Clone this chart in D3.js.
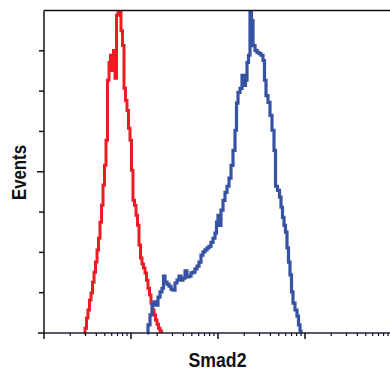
<!DOCTYPE html>
<html>
<head>
<meta charset="utf-8">
<script src="https://cdn.jsdelivr.net/npm/d3@7"></script>
<style>
  html, body { margin: 0; padding: 0; background: #fff; }
  svg { display: block; }
  .axis-title {
    font-family: "Liberation Sans Narrow", "Arial Narrow", "Liberation Sans", Arial, sans-serif;
    font-weight: bold;
    font-size: 21px;
    fill: #111;
  }
</style>
</head>
<body>
<div id="chart"></div>
<script>
// -------------------------------------------------------------------------
// Data (fluorescence intensity, events)

const redIntensity = [2.88, 2.96, 3.08, 3.20, 3.33, 3.47, 3.61, 3.76, 3.91, 4.07,
  4.23, 4.40, 4.58, 4.77, 4.96, 5.16, 5.37, 5.59, 5.81, 6.05,
  6.29, 6.55, 6.81, 7.09, 7.37, 7.67, 7.99, 8.31, 8.65, 8.99,
  9.36, 9.74, 10.13, 10.54, 10.97, 11.41, 11.88, 12.36, 12.86, 13.38,
  13.92, 14.49, 15.08, 15.68, 16.32, 16.98, 17.67, 18.38, 19.13, 19.90,
  20.71, 21.54, 22.41];
const redEvents = [0, 0.12, 0.37, 0.57, 0.82, 0.99, 1.26, 1.51, 1.76, 2.06,
  2.35, 2.75, 3.17, 3.67, 4.16, 4.78, 6.27, 6.71, 6.89, 6.51,
  7.01, 6.32, 7.88, 8.4, 8.4, 7.50, 7.13, 6.07, 5.77, 5.52,
  5.08, 4.78, 4.04, 3.29, 3.17, 2.92, 2.67, 2.18, 1.86, 1.71,
  1.61, 1.49, 1.31, 1.11, 0.94, 0.74, 0.57, 0.45, 0.32, 0.22,
  0.12, 0.05, 0];

const blueIntensity = [15.27, 15.68, 16.54, 17.43, 18.38, 19.38, 20.43, 21.54, 22.71, 23.63,
  24.59, 25.93, 27.34, 28.83, 30.39, 32.04, 33.79, 35.62, 37.56, 39.60,
  41.76, 44.03, 46.42, 48.94, 51.60, 54.41, 57.36, 60.48, 63.77, 67.23,
  70.89, 74.74, 78.80, 83.09, 87.60, 92.36, 96.11, 100.0, 104.04, 108.27,
  114.15, 120.36, 126.90, 133.80, 141.07, 148.74, 156.82, 163.17, 169.81, 179.04,
  188.77, 199.03, 207.09, 215.44, 224.16, 233.25, 242.69, 252.52, 266.25, 280.72,
  295.98, 312.06, 329.03, 342.36, 356.21, 375.56, 395.97, 417.49, 440.18, 458.03,
  482.91, 509.16, 529.78, 551.22, 573.53, 596.74, 620.90, 646.03, 672.18, 699.39,
  727.70, 767.23, 808.91, 841.65, 876.07, 899.5];
const blueEvents = [0, 0.20, 0.45, 0.69, 0.77, 0.69, 0.89, 1.02, 1.11, 1.41,
  1.26, 1.21, 1.16, 1.09, 1.06, 1.24, 1.31, 1.41, 1.31, 1.36,
  1.54, 1.39, 1.41, 1.49, 1.51, 1.59, 1.66, 1.76, 1.93, 2.01,
  2.06, 2.11, 2.15, 2.25, 2.35, 2.48, 2.75, 2.92, 2.67, 3.05,
  3.29, 3.49, 3.64, 3.84, 4.16, 4.53, 5.03, 5.70, 5.97, 6.07,
  6.39, 6.14, 6.27, 6.71, 6.89, 8.4, 7.75, 7.13, 7.01, 6.96,
  6.93, 6.89, 6.76, 6.27, 5.89, 5.72, 5.40, 5.03, 4.53, 3.64,
  3.54, 3.37, 3.12, 2.87, 2.67, 2.50, 2.11, 1.76, 1.44, 1.02,
  0.74, 0.57, 0.42, 0.20, 0.05, 0];

const yTickValues = [0, 1, 2, 3, 4, 5, 6, 7];
const xMajorTicks = [1, 10, 100, 1000, 10000];
const xMinorTicks = [];
[1, 10, 100, 1000].forEach(decade => {
  [2, 3, 4, 5, 6, 7, 8, 9].forEach(m => xMinorTicks.push(m * decade));
});

// -------------------------------------------------------------------------
// Layout

const width = 390;
const height = 369;
const margin = { top: 10.5, left: 44, bottom: 36 };
const plotBottom = height - margin.bottom;

const x = d3.scaleLog()
  .domain([1, 10000])
  .range([margin.left, margin.left + 4 * 87]);

const y = d3.scaleLinear()
  .domain([0, 8])
  .range([plotBottom, margin.top]);

const svg = d3.select('#chart')
  .append('svg')
  .attr('width', width)
  .attr('height', height);

svg.append('defs')
  .append('clipPath')
  .attr('id', 'plot-clip')
  .append('rect')
  .attr('x', margin.left)
  .attr('y', margin.top)
  .attr('width', width - margin.left)
  .attr('height', plotBottom - margin.top + 2);

// -------------------------------------------------------------------------
// Histograms

const line = d3.line()
  .x(d => x(d[0]))
  .y(d => y(d[1]))
  .curve(d3.curveStepAfter);

const plot = svg.append('g').attr('clip-path', 'url(#plot-clip)');

plot.append('path')
  .attr('d', line(d3.zip(redIntensity, redEvents)))
  .attr('fill', 'none')
  .attr('stroke', '#ec1c24')
  .attr('stroke-width', 3)
  .attr('stroke-linejoin', 'miter');

plot.append('path')
  .attr('d', line(d3.zip(blueIntensity, blueEvents)))
  .attr('fill', 'none')
  .attr('stroke', '#3653a3')
  .attr('stroke-width', 3.2)
  .attr('stroke-linejoin', 'miter');

// -------------------------------------------------------------------------
// Axes / frame

const frame = svg.append('g')
  .attr('stroke', '#111')
  .attr('stroke-width', 1.5)
  .attr('fill', 'none');

// top border
frame.append('line')
  .attr('x1', margin.left).attr('x2', width)
  .attr('y1', margin.top).attr('y2', margin.top);

// left axis
frame.append('line')
  .attr('x1', margin.left).attr('x2', margin.left)
  .attr('y1', margin.top).attr('y2', plotBottom);

// bottom axis
frame.append('line')
  .attr('x1', margin.left).attr('x2', width)
  .attr('y1', plotBottom).attr('y2', plotBottom)
  .attr('stroke', '#1c2240');

// y ticks, middle one is longer
frame.selectAll('.y-tick')
  .data(yTickValues)
  .enter()
  .append('line')
  .attr('class', 'y-tick')
  .attr('x1', d => margin.left - (d === 4 ? 7 : d === 0 ? 6 : 5))
  .attr('x2', margin.left)
  .attr('y1', d => y(d))
  .attr('y2', d => y(d));

// x ticks
frame.selectAll('.x-major')
  .data(xMajorTicks)
  .enter()
  .append('line')
  .attr('class', 'x-major')
  .attr('x1', d => x(d)).attr('x2', d => x(d))
  .attr('y1', plotBottom).attr('y2', plotBottom + 6);

frame.selectAll('.x-minor')
  .data(xMinorTicks)
  .enter()
  .append('line')
  .attr('class', 'x-minor')
  .attr('stroke-width', 1.2)
  .attr('x1', d => x(d)).attr('x2', d => x(d))
  .attr('y1', plotBottom).attr('y2', plotBottom + 3);

// -------------------------------------------------------------------------
// Titles

svg.append('text')
  .attr('class', 'axis-title')
  .attr('x', 217.5)
  .attr('y', 366.5)
  .attr('text-anchor', 'middle')
  .attr('textLength', 58)
  .attr('lengthAdjust', 'spacingAndGlyphs')
  .text('Smad2');

svg.append('text')
  .attr('class', 'axis-title')
  .attr('transform', 'translate(25.5,172.5) rotate(-90)')
  .attr('text-anchor', 'middle')
  .attr('textLength', 55)
  .attr('lengthAdjust', 'spacingAndGlyphs')
  .text('Events');
</script>
</body>
</html>
